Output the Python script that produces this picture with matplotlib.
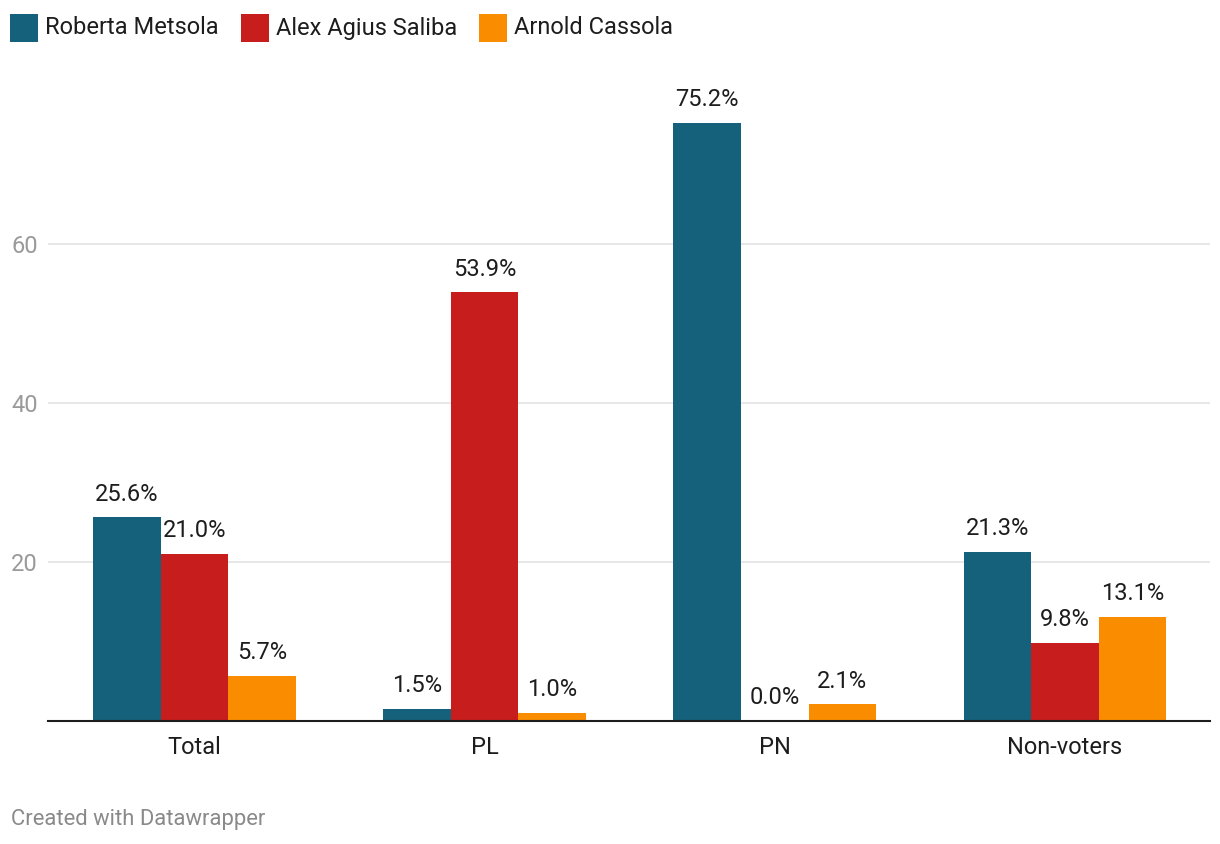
import matplotlib
matplotlib.use("Agg")
import matplotlib.pyplot as plt
from matplotlib.patches import Rectangle
import numpy as np

categories = ["Total", "PL", "PN", "Non-voters"]
series_names = ["Roberta Metsola", "Alex Agius Saliba", "Arnold Cassola"]
metsola = [25.6, 1.5, 75.2, 21.3]
saliba = [21.0, 53.9, 0.0, 9.8]
cassola = [5.7, 1.0, 2.1, 13.1]
colors = ["#15607a", "#c71e1d", "#fa8c00"]
yticks = [20, 40, 60]

plt.rcParams['font.family'] = ['Roboto', 'DejaVu Sans']

W, H = 1220, 844
fig = plt.figure(figsize=(W / 100, H / 100), dpi=100)
ax_left, ax_right, ax_bottom = 48, 1210, 721
px_per_unit = 7.95
ytop = 80
ax_top = ax_bottom - ytop * px_per_unit
ax = fig.add_axes([ax_left / W, 1 - ax_bottom / H, (ax_right - ax_left) / W, (ax_bottom - ax_top) / H])

x = np.arange(len(categories))
bw = 0.233
data = [metsola, saliba, cassola]
for i, (vals, c) in enumerate(zip(data, colors)):
    xs = x + (i - 1) * bw
    ax.bar(xs, vals, width=bw, color=c, zorder=3)
    for xi, v in zip(xs, vals):
        ax.annotate(f"{v:.1f}%", (xi, v), xytext=(0, 12), textcoords="offset points",
                    ha="center", va="baseline", fontsize=17, color="#1d1d1d", zorder=4)

ax.set_xlim(-0.505, 3.5)
ax.set_ylim(0, ytop)
for s in ax.spines.values():
    s.set_visible(False)
ax.set_yticks(yticks)
ax.set_yticklabels([str(t) for t in yticks])
ax.yaxis.grid(True, color="#e3e3e3", linewidth=1.2, zorder=0)
ax.tick_params(axis="y", length=0, pad=26.6, labelsize=17, labelcolor="#9a9a9a")
for lab in ax.get_yticklabels():
    lab.set_horizontalalignment("left")
ax.set_xticks(x)
ax.set_xticklabels(categories)
ax.tick_params(axis="x", length=0, pad=10.5, labelsize=17, labelcolor="#1d1d1d")
ax.axhline(0, color="#1d1d1d", linewidth=1.5, zorder=5, clip_on=False)

# legend
fig.canvas.draw()
renderer = fig.canvas.get_renderer()
cx = 10
for name, c in zip(series_names, colors):
    fig.add_artist(Rectangle((cx / W, 1 - 42 / H), 28 / W, 28 / H, transform=fig.transFigure,
                             color=c, lw=0))
    t = fig.text((cx + 35) / W, 1 - 28 / H, name, fontsize=17, color="#1d1d1d",
                 va="center", ha="left")
    bb = t.get_window_extent(renderer)
    cx = bb.x1 + 22

fig.text(11 / W, 1 - 819 / H, "Created with Datawrapper", fontsize=15.8, color="#8a8a8a",
         va="center", ha="left")

fig.savefig("out.png", dpi=100)
